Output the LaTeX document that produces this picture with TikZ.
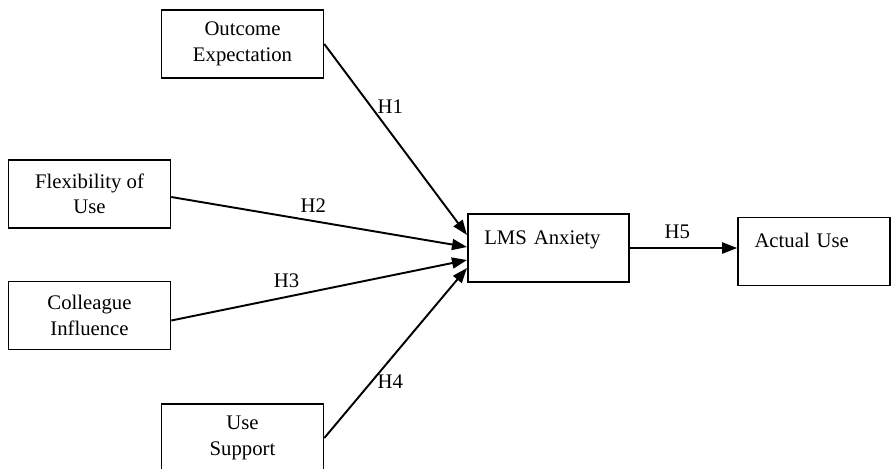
\documentclass[tikz,border=0pt]{standalone}
\usepackage{fontspec}
\setmainfont{Liberation Serif}
\usetikzlibrary{calc,arrows.meta}

\tikzset{
	box/.style={draw, line width=0.9pt, minimum width=3.24cm, minimum height=1.36cm, align=center, inner sep=2pt, font=\fontsize{11.8}{14.5}\selectfont},
	topbox/.style={draw, line width=0.9pt, align=left, inner xsep=0.33cm, inner ysep=0.3cm, text height=0.3cm, text depth=0.46cm, font=\fontsize{11.8}{14.5}\selectfont},
	link/.style={line width=1.1pt, -{Triangle[length=3mm,width=2.2mm]}},
	hlabel/.style={font=\fontsize{11.8}{14.5}\selectfont, inner sep=3pt}
}

\begin{document}
\begin{tikzpicture}[x=0.02cm, y=-0.02cm]
	%%%%% START %%%%%
	\useasboundingbox (0, 0) rectangle (891, 468);
	
	\node[box] (outcome) at (242.5, 44) {Outcome\\Expectation};
	\node[box] (flex) at (89.5, 194) {Flexibility of\\Use};
	\node[box] (colleague) at (89.5, 315.5) {Colleague\\Influence};
	\node[box] (support) at (242.5, 438) {Use\\Support};
	
	\node[topbox, text width=2.57cm] (anxiety) at (548.5, 248) {LMS Anxiety};
	\node[topbox, text width=2.38cm] (actual) at (814, 251.5) {Actual Use};
	
	\draw[link] (outcome.east) -- ($(anxiety.west)+(0,-13)$) node[hlabel, pos=0.33, anchor=west] {H1};
	\draw[link] ($(flex.east)+(0,3)$) -- ($(anxiety.west)+(0,-1)$) node[hlabel, pos=0.48, anchor=south, inner sep=4.5pt] {H2};
	\draw[link] ($(colleague.east)+(0,5)$) -- ($(anxiety.west)+(0,12)$) node[hlabel, pos=0.39, anchor=south, inner sep=4.5pt] {H3};
	\draw[link] (support.east) -- ($(anxiety.west)+(0,20)$) node[hlabel, pos=0.33, anchor=west] {H4};
	
	\draw[link] (anxiety.east) -- (anxiety.east -| actual.west) node[hlabel, pos=0.44, anchor=south, inner sep=4.5pt] {H5};
	
	%%%%% END %%%%%
\end{tikzpicture}
\end{document}
